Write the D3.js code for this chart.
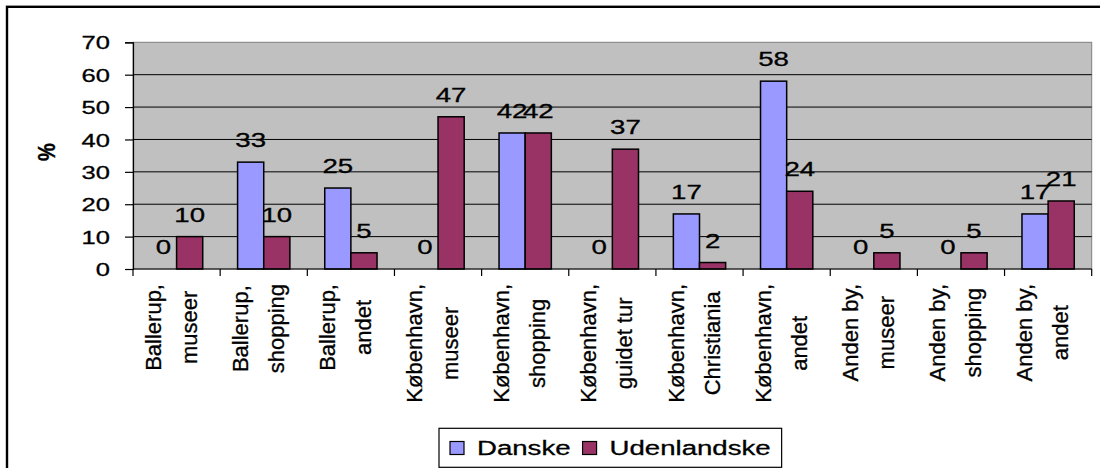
<!DOCTYPE html>
<html>
<head>
<meta charset="utf-8">
<script src="https://cdn.jsdelivr.net/npm/d3@7"></script>
<style>
  html, body { margin: 0; padding: 0; background: #fff; }
  svg { display: block; font-family: "Liberation Sans", Arial, sans-serif; }
  svg text { stroke: #000; stroke-width: 0.3px; }
</style>
</head>
<body>
<svg id="chart" width="1100" height="468"></svg>
<script>
// ---- data ----
const categories = [
  ["Ballerup,", "museer"],
  ["Ballerup,", "shopping"],
  ["Ballerup,", "andet"],
  ["København,", "museer"],
  ["København,", "shopping"],
  ["København,", "guidet tur"],
  ["København,", "Christiania"],
  ["København,", "andet"],
  ["Anden by,", "museer"],
  ["Anden by,", "shopping"],
  ["Anden by,", "andet"]
];
const seriesNames = ["Danske", "Udenlandske"];
const danske = [0, 33, 25, 0, 42, 0, 17, 58, 0, 0, 17];
const udenlandske = [10, 10, 5, 47, 42, 37, 2, 24, 5, 5, 21];
const yTicks = [0, 10, 20, 30, 40, 50, 60, 70];
const yAxisTitle = "%";
const colors = ["#9999FF", "#993366"];

// ---- layout ----
const svg = d3.select("#chart");
const W = 1100, H = 468;
const plot = { left: 133, right: 1091.7, top: 42.3, bottom: 269 };
const SX = 1.38; // horizontal stretch of horizontal text in the reference
const FONT = "Liberation Sans, Arial, sans-serif";

// outer frame
svg.append("rect")
  .attr("x", 7).attr("y", 6.8).attr("width", W + 10).attr("height", H + 10)
  .attr("fill", "#fff").attr("stroke", "#000").attr("stroke-width", 2.4);

const y = d3.scaleLinear().domain([0, 70]).range([plot.bottom, plot.top]);
const x0 = d3.scaleBand().domain(d3.range(categories.length))
  .range([plot.left, plot.right]).paddingInner(0).paddingOuter(0);
const bw = x0.bandwidth();
const x1 = d3.scaleBand().domain(seriesNames).range([bw * 0.2, bw * 0.8]);

// plot background
svg.append("rect")
  .attr("x", plot.left).attr("y", plot.top)
  .attr("width", plot.right - plot.left).attr("height", plot.bottom - plot.top)
  .attr("fill", "#C0C0C0").attr("stroke", "#808080").attr("stroke-width", 1);

// gridlines
svg.append("g").selectAll("line")
  .data(yTicks.filter(t => t > 0 && t < 70))
  .join("line")
  .attr("x1", plot.left).attr("x2", plot.right)
  .attr("y1", d => y(d)).attr("y2", d => y(d))
  .attr("stroke", "#000").attr("stroke-width", 1);

// y axis
const yAxisG = svg.append("g")
  .attr("transform", `translate(${plot.left},0)`)
  .call(d3.axisLeft(y).tickValues(yTicks).tickSize(8).tickFormat(d3.format("d")));
yAxisG.attr("font-family", FONT);
yAxisG.select(".domain").attr("stroke", "#000").attr("stroke-width", 1.2);
yAxisG.selectAll(".tick line").attr("stroke", "#000").attr("stroke-width", 1.2);
yAxisG.selectAll(".tick text")
  .attr("x", 0).attr("dy", "0.36em")
  .attr("transform", `translate(-23,0) scale(${SX},1)`)
  .attr("font-size", 18.5)
  .attr("fill", "#000").attr("text-anchor", "end");

// y axis title
svg.append("text")
  .attr("transform", "translate(55,152) scale(1.15,1) rotate(-90)")
  .attr("text-anchor", "middle")
  .attr("font-size", 20).attr("font-weight", "bold")
  .text(yAxisTitle);

// bars
const rows = categories.map((c, i) => ({ i, vals: [danske[i], udenlandske[i]] }));
const groups = svg.append("g").selectAll("g")
  .data(rows).join("g")
  .attr("transform", d => `translate(${x0(d.i)},0)`);

groups.selectAll("rect")
  .data(d => d.vals.map((v, k) => ({ k, v })).filter(e => e.v > 0))
  .join("rect")
  .attr("x", e => x1(seriesNames[e.k]))
  .attr("width", x1.bandwidth())
  .attr("y", e => y(e.v))
  .attr("height", e => y(0) - y(e.v))
  .attr("fill", e => colors[e.k])
  .attr("stroke", "#000").attr("stroke-width", 1.5);

// value labels
groups.selectAll("text.val")
  .data(d => d.vals.map((v, k) => ({ k, v })))
  .join("text")
  .attr("class", "val")
  .attr("transform", e => `translate(${x1(seriesNames[e.k]) + x1.bandwidth() / 2},${y(e.v) - 15}) scale(${SX},1)`)
  .attr("text-anchor", "middle")
  .attr("font-size", 20)
  .attr("fill", "#000")
  .text(e => e.v);

// x axis line and boundary ticks
svg.append("line")
  .attr("x1", plot.left).attr("x2", plot.right)
  .attr("y1", plot.bottom).attr("y2", plot.bottom)
  .attr("stroke", "#000").attr("stroke-width", 1.2);
svg.append("g").selectAll("line")
  .data(d3.range(categories.length + 1))
  .join("line")
  .attr("x1", d => plot.left + d * x0.step()).attr("x2", d => plot.left + d * x0.step())
  .attr("y1", plot.bottom).attr("y2", plot.bottom + 7)
  .attr("stroke", "#000").attr("stroke-width", 1.2);

// category labels (rotated, two lines)
const labelTop = 284;
const lineGap = 36;
const catG = svg.append("g");
categories.forEach((lines, i) => {
  const cx = x0(i) + bw / 2;
  const texts = lines.map((t, j) => catG.append("text")
    .attr("font-size", 22)
    .attr("text-anchor", "middle")
    .attr("fill", "#000")
    .text(t));
  const maxLen = d3.max(texts, t => t.node().getComputedTextLength());
  const cy = labelTop + maxLen / 2;
  texts.forEach((t, j) => {
    const bx = cx - 16 + j * lineGap;
    t.attr("transform", `translate(${bx},${cy}) rotate(-90)`);
  });
});

// legend
const legG = svg.append("g");
const legBox = legG.append("rect")
  .attr("fill", "#fff").attr("stroke", "#000").attr("stroke-width", 1.2);
let lx = 450;
seriesNames.forEach((name, k) => {
  legG.append("rect")
    .attr("x", lx).attr("y", 441.5).attr("width", 14).attr("height", 13)
    .attr("fill", colors[k]).attr("stroke", "#000").attr("stroke-width", 1.2);
  const tx = lx + 27;
  const t = legG.append("text")
    .attr("transform", `translate(${tx},455) scale(${SX},1)`)
    .attr("font-size", 20).attr("fill", "#000")
    .text(name);
  const tw = t.node().getComputedTextLength() * SX;
  lx = tx + tw + 12;
});
legBox.attr("x", 439).attr("y", 428.3).attr("width", (lx - 12 + 11) - 439).attr("height", 39);
</script>
</body>
</html>
